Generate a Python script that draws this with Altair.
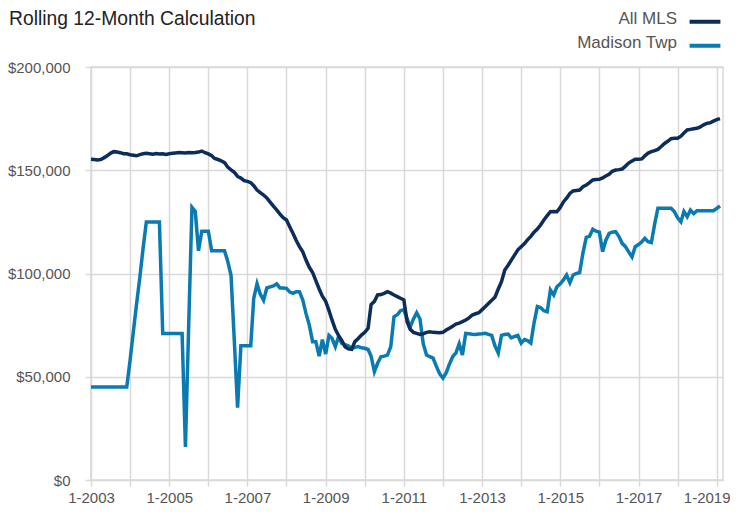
import altair as alt
import pandas as pd

# Monthly rolling 12-month values, Jan 2003 .. Feb 2019
start = "2003-01-01"

all_mls = [
    155300, 155200, 155000, 155200, 156000, 157000, 158200, 159000, 158800, 158500, 158000, 158000,
    157500, 157300, 157000, 157600, 158000, 158200, 158000, 157800, 158100, 157900, 158000, 157700,
    158000, 158200, 158400, 158600, 158500, 158400, 158600, 158500, 158600, 158800, 159300, 158500,
    157900, 157000, 155700, 155200, 154600, 153700, 151500, 150200, 149000, 147000, 146200, 145000,
    144600, 144000, 142500, 140400, 139200, 138000, 136600, 134600, 132600, 130800, 128800, 127000,
    125900, 122500, 119500, 116000, 113000, 110500, 106500, 103000, 100500, 96500, 92500, 89000,
    86500, 82000, 77500, 73000, 70000, 67500, 64500, 63500, 63300, 67000, 68500, 70200,
    71500, 73500, 85000, 86500, 89600, 89800, 90400, 91200, 90500, 89600, 88800, 88000,
    87200, 76500, 73000, 71500, 71000, 70500, 70800, 71500, 71800, 71500, 71400, 71300,
    71500, 72600, 73500, 74500, 75500, 76000, 76700, 77500, 78500, 79900, 80500, 81000,
    82500, 84000, 85500, 87000, 88500, 92500, 96000, 101700, 104000, 106500, 109000, 111500,
    113000, 114500, 116300, 118000, 120000, 121500, 123500, 125900, 128000, 129900, 130000, 129900,
    132000, 134800, 136500, 138800, 140000, 140200, 140400, 142000, 142800, 144000, 145300, 145500,
    145600, 146300, 147200, 148000, 149500, 150100, 150300, 150600, 152000, 153500, 154500, 155300,
    155300, 155500, 157000, 158300, 159000, 159500, 160100, 161500, 163000, 164000, 165300, 165500,
    165500, 166500, 168000, 169500, 169800, 170100, 170300, 171000, 172000, 172700, 173000, 173800,
    174500, 175000,
]

madison = [
    45000, 45000, 45000, 45000, 45000, 45000, 45000, 45000, 45000, 45000, 45000, 45000,
    58000, 72000, 85000, 98000, 112000, 125000, 125000, 125000, 125000, 125000, 71000, 71000,
    71000, 71000, 71000, 71000, 71000, 16000, 74000, 132000, 130000, 111000, 120500, 120500,
    120500, 111000, 111000, 111000, 111000, 111000, 106000, 99000, 67000, 35000, 65000, 65000,
    65000, 65000, 88000, 95000, 90000, 87000, 93000, 93500, 94000, 95000, 93000, 93000,
    92800, 91000, 90400, 91200, 91200, 87200, 80700, 75000, 67000, 67000, 60000, 68000,
    61000, 70000, 68600, 64600, 69400, 66200, 65500, 65000, 63800, 64200, 64600, 64000,
    63800, 63200, 60000, 52500, 56500, 59700, 60000, 60500, 64600, 79000, 80000, 82000,
    82500, 78000, 74000, 78000, 81000, 78000, 66000, 60500, 59700, 59000, 55000, 51500,
    49300, 52000, 56000, 59700, 61500, 66000, 60500, 71000, 70800, 70600, 70500, 70700,
    70800, 71000, 70500, 70000, 65000, 61500, 70000, 70500, 70700, 68800, 69500, 70000,
    66300, 68000, 67500, 66300, 76000, 84000, 83500, 82000, 81500, 92000, 89600, 93600,
    95000, 97000, 99300, 95500, 99300, 100000, 100400, 110000, 117500, 118000, 121400, 120500,
    120000, 110600, 116000, 119400, 120000, 120300, 118000, 114600, 113000, 110500, 108000, 113000,
    114000, 115400, 117000, 115400, 115000, 124000, 131600, 131600, 131600, 131600, 131600, 130000,
    127000, 125000, 130000, 127500, 130700, 129000, 130400, 130400, 130400, 130400, 130400, 130400,
    131500, 132700,
]

series_names = ["All MLS", "Madison Twp"]
series_colors = ["#0c2d5c", "#0a7bb2"]
y_ticks = [0, 50000, 100000, 150000, 200000]
x_tick_years = list(range(2003, 2020))

dates = pd.date_range(start, periods=len(all_mls), freq="MS")
df = pd.concat([
    pd.DataFrame({"date": dates, "value": all_mls, "series": series_names[0]}),
    pd.DataFrame({"date": dates, "value": madison, "series": series_names[1]}),
])

grid = "#d9d9d9"
font_main = "Liberation Sans"

x_enc = alt.X(
    "date:T",
    title=None,
    scale=alt.Scale(domain=[alt.DateTime(year=2003, month=1, date=1),
                            alt.DateTime(year=2019, month=3, date=1)]),
    axis=alt.Axis(
        values=[alt.DateTime(year=y, month=1, date=1) for y in x_tick_years],
        labelExpr="year(datum.value) % 2 == 1 ? '1-' + year(datum.value) : ''",
        labelOffset={"expr": "year(datum.value) == 2019 ? -10 : 0"},
        grid=True, gridColor=grid, gridWidth=1.5,
        domain=False, ticks=True, tickColor=grid, tickSize=6, tickWidth=1.5,
        labelFont=font_main, labelFontSize=15, labelColor="#555555",
        labelPadding=4, labelFlush=False, labelOverlap=False,
    ),
)
y_enc = alt.Y(
    "value:Q",
    title=None,
    scale=alt.Scale(domain=[0, 200000], nice=False),
    axis=alt.Axis(
        values=y_ticks, format="$,.0f",
        grid=True, gridColor=grid, gridWidth=1.5,
        domain=False, ticks=True, tickColor=grid, tickSize=6, tickWidth=1.5,
        labelFont=font_main, labelFontSize=15, labelColor="#555555",
        labelPadding=15,
    ),
)
color_enc = alt.Color(
    "series:N",
    scale=alt.Scale(domain=series_names, range=series_colors),
    legend=alt.Legend(
        title=None, orient="none", legendX=601, legendY=-61,
        symbolType="M-1.4,0.25H1.4", symbolSize=484, symbolStrokeWidth=4,
        labelAlign="right", labelOffset={"expr": "-41"},
        labelFont=font_main, labelFontSize=17, labelColor="#555555",
        rowPadding=0, padding=0,
    ),
)

base = alt.Chart(df).mark_line(strokeWidth=3.5, interpolate="linear").encode(
    x=x_enc, y=y_enc, color=color_enc
)
madison_line = base.transform_filter(alt.datum.series == series_names[1])
mls_line = base.transform_filter(alt.datum.series == series_names[0])

chart = alt.layer(madison_line, mls_line).properties(
    width=632, height=413,
    padding={"left": 83, "top": 59, "right": 7, "bottom": 27},
    autosize=alt.AutoSizeParams(type="none"),
    title=alt.TitleParams(
        "Rolling 12-Month Calculation", anchor="start", frame="group",
        font=font_main, fontSize=19.3, fontWeight="normal", color="#222222",
        dx=-82, offset=0, dy=38, baseline="alphabetic",
    ),
).configure_view(stroke=grid, strokeWidth=1.5)

chart.save("out.html", embed_options={"renderer": "svg", "actions": False})
